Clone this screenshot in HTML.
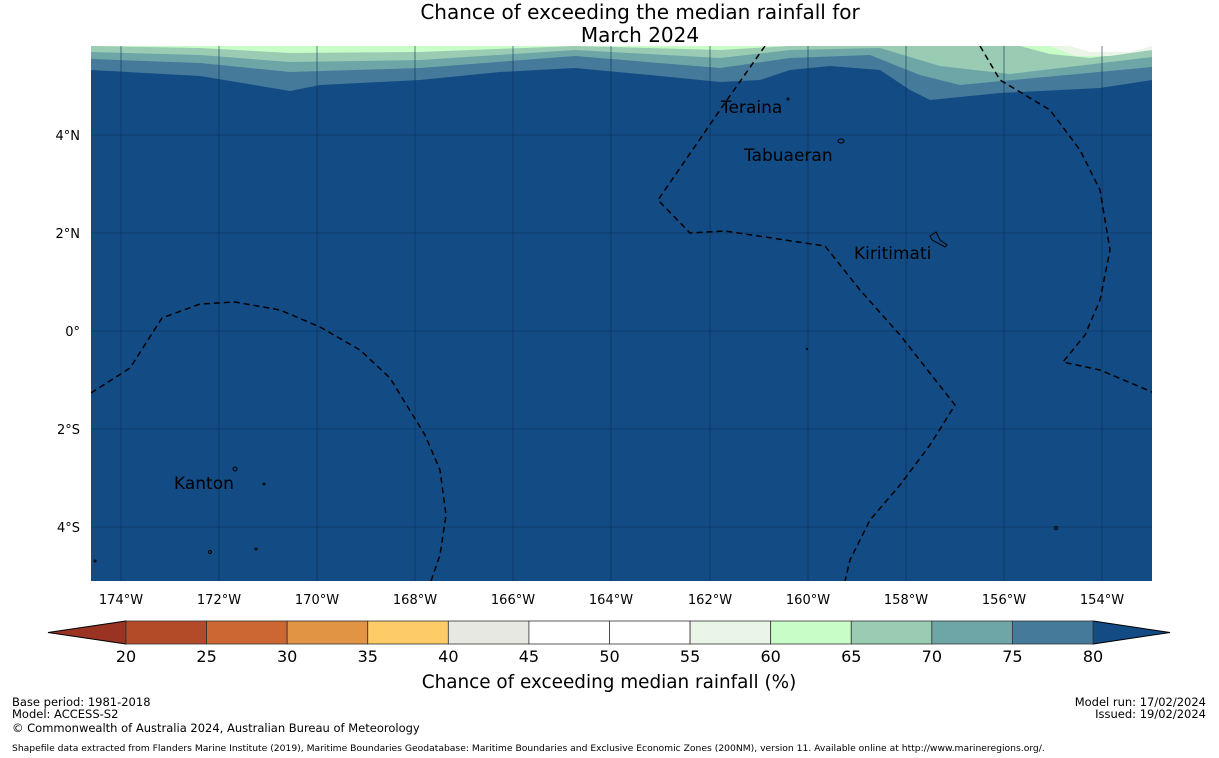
<!DOCTYPE html>
<html><head><meta charset="utf-8"><style>
body{margin:0;background:#fff;font-family:"Liberation Sans","DejaVu Sans",sans-serif;}
svg{display:block}
</style></head><body>
<svg width="1219" height="758" xmlns="http://www.w3.org/2000/svg" font-family="DejaVu Sans, Liberation Sans, sans-serif">
<text x="640" y="19" text-anchor="middle" font-size="20">Chance of exceeding the median rainfall for</text>
<text x="640" y="42" text-anchor="middle" font-size="20">March 2024</text>
<defs><clipPath id="mc"><rect x="91" y="46" width="1061" height="535"/></clipPath></defs>
<g clip-path="url(#mc)">
<rect x="91" y="46" width="1061" height="535" fill="#134b85"/>
<path fill="#457a9a" d="M91,46 L1152,46 L1152,80 L1100,88 L1000,93 L960,97 L930,100 L910,90 L880,70 L830,66 L790,70 L760,80 L720,82 L650,75 L575,68 L500,72 L420,80 L320,85 L290,91 L200,76 L91,70 Z"/>
<path fill="#6ea6a8" d="M91,46 L1152,46 L1152,67 L960,85 L920,75 L870,55 L790,58 L720,68 L575,56 L420,68 L290,72 L200,63 L91,59 Z"/>
<path fill="#99ccb3" d="M91,46 L1152,46 L1152,57 L1010,74 L940,66 L880,48 L790,50 L720,58 L575,50 L420,60 L290,62 L200,55 L91,52 Z"/>
<path fill="#c8fdc8" d="M91,46 L1152,46 L1152,50 L1090,58 L1050,54 L1020,46 L990,46 L960,46 L920,46 L790,46 L720,50 L575,46 L420,52 L290,53 L200,48 L91,46 Z"/>
<path fill="#eaf5e8" d="M1050,46 L1152,46 L1152,50 L1110,56 L1075,56 L1060,50 Z"/>
<path fill="#ffffff" d="M1070,46 L1152,46 L1130,52 L1090,52 Z"/>
<g stroke="#0d2f55" stroke-width="0.6">
<line x1="121" y1="46" x2="121" y2="581"/><line x1="219" y1="46" x2="219" y2="581"/><line x1="317" y1="46" x2="317" y2="581"/><line x1="415" y1="46" x2="415" y2="581"/><line x1="513" y1="46" x2="513" y2="581"/><line x1="611" y1="46" x2="611" y2="581"/><line x1="710" y1="46" x2="710" y2="581"/><line x1="808" y1="46" x2="808" y2="581"/><line x1="906" y1="46" x2="906" y2="581"/><line x1="1004" y1="46" x2="1004" y2="581"/><line x1="1102" y1="46" x2="1102" y2="581"/>
<line x1="91" y1="135" x2="1152" y2="135"/><line x1="91" y1="233" x2="1152" y2="233"/><line x1="91" y1="331" x2="1152" y2="331"/><line x1="91" y1="429" x2="1152" y2="429"/><line x1="91" y1="527" x2="1152" y2="527"/>
</g>
<g fill="none" stroke="#000" stroke-width="1.5" stroke-dasharray="6,4">
<path d="M91,393 L130,368 L162,318 L200,304 L235,302 L280,310 L320,327 L360,350 L390,378 L425,435 L440,470 L446,515 L440,555 L431,581"/>
<path d="M765,46 L720,110 L658,200 L690,233 L725,231 L825,246 L860,290 L900,335 L955,405 L930,445 L900,485 L870,520 L850,560 L845,581"/>
<path d="M980,46 L1000,80 L1050,110 L1080,150 L1100,190 L1110,250 L1100,300 L1085,335 L1063,362 L1100,370 L1152,392"/>
</g>
<g fill="none" stroke="#000" stroke-width="1">
<ellipse cx="841" cy="141" rx="3" ry="2"/><path d="M930,236 L936,232 L940,240 L947,245 L945,247 L932,240 Z"/>
<ellipse cx="235" cy="469" rx="2" ry="2"/><circle cx="788" cy="99" r="1"/><circle cx="264" cy="484" r="1"/><circle cx="210" cy="552" r="1.5"/><circle cx="256" cy="549" r="1"/><circle cx="1056" cy="528" r="1.5"/><circle cx="807" cy="349" r="0.7"/><circle cx="95" cy="561" r="1"/>
</g>
<g font-size="17" fill="#000">
<text x="721" y="113">Teraina</text><text x="744" y="161">Tabuaeran</text><text x="854" y="259">Kiritimati</text><text x="174" y="489">Kanton</text>
</g>
</g>
<g font-size="13" fill="#000">
<text x="80" y="140" text-anchor="end">4°N</text><text x="80" y="238" text-anchor="end">2°N</text><text x="80" y="336" text-anchor="end">0°</text><text x="80" y="434" text-anchor="end">2°S</text><text x="80" y="532" text-anchor="end">4°S</text>
</g>
<g font-size="13" fill="#000" text-anchor="middle">
<text x="121" y="604">174°W</text><text x="219" y="604">172°W</text><text x="317" y="604">170°W</text><text x="415" y="604">168°W</text><text x="513" y="604">166°W</text><text x="611" y="604">164°W</text><text x="710" y="604">162°W</text><text x="808" y="604">160°W</text><text x="906" y="604">158°W</text><text x="1004" y="604">156°W</text><text x="1102" y="604">154°W</text>
</g>
<g id="cbar"></g>
<text x="609" y="688" text-anchor="middle" font-size="18.4">Chance of exceeding median rainfall (%)</text>
<g font-size="11.5" fill="#000">
<text x="12" y="706">Base period: 1981-2018</text><text x="12" y="718">Model: ACCESS-S2</text><text x="12" y="732">© Commonwealth of Australia 2024, Australian Bureau of Meteorology</text>
<text x="1206" y="706" text-anchor="end">Model run: 17/02/2024</text><text x="1206" y="718" text-anchor="end">Issued: 19/02/2024</text>
<text x="12" y="751" font-size="9.2">Shapefile data extracted from Flanders Marine Institute (2019), Maritime Boundaries Geodatabase: Maritime Boundaries and Exclusive Economic Zones (200NM), version 11. Available online at http://www.marineregions.org/.</text>
</g>
</svg>
<script>
const binEdges=[20,25,30,35,40,45,50,55,60,65,70,75,80];
const binColors=["#b34a28","#cc6633","#e09444","#fecc66","#e8e8e3","#ffffff","#ffffff","#eaf5e8","#c8fdc8","#99ccb3","#6ea6a8","#457a9a"];
const underColor="#9a3322", overColor="#134b85";
const NS="http://www.w3.org/2000/svg";
const g=document.getElementById('cbar');
const x0=126,x1=1093,y0=621,y1=644;
const sx=v=>x0+(v-binEdges[0])/(binEdges[binEdges.length-1]-binEdges[0])*(x1-x0);
function mk(t,a){const e=document.createElementNS(NS,t);for(const k in a)e.setAttribute(k,a[k]);g.appendChild(e);return e;}
let tri=mk('polygon',{points:`${x0},${y0} ${x0},${y1} 48,${(y0+y1)/2}`,fill:underColor,stroke:'#000','stroke-width':1});


let tri2=mk('polygon',{points:`${x1},${y0} ${x1},${y1} 1170,${(y0+y1)/2}`,fill:overColor,stroke:'#000','stroke-width':1});


for(let i=0;i<binColors.length;i++){
 const r=mk('rect',{x:sx(binEdges[i]),y:y0,width:sx(binEdges[i+1])-sx(binEdges[i]),height:y1-y0,fill:binColors[i],stroke:'#333','stroke-width':0.8});
 
 
}
for(const v of binEdges){
 const t=mk('text',{x:sx(v),y:662,'text-anchor':'middle','font-size':16});
 t.textContent=v;
 
 
}
</script>
</body></html>
